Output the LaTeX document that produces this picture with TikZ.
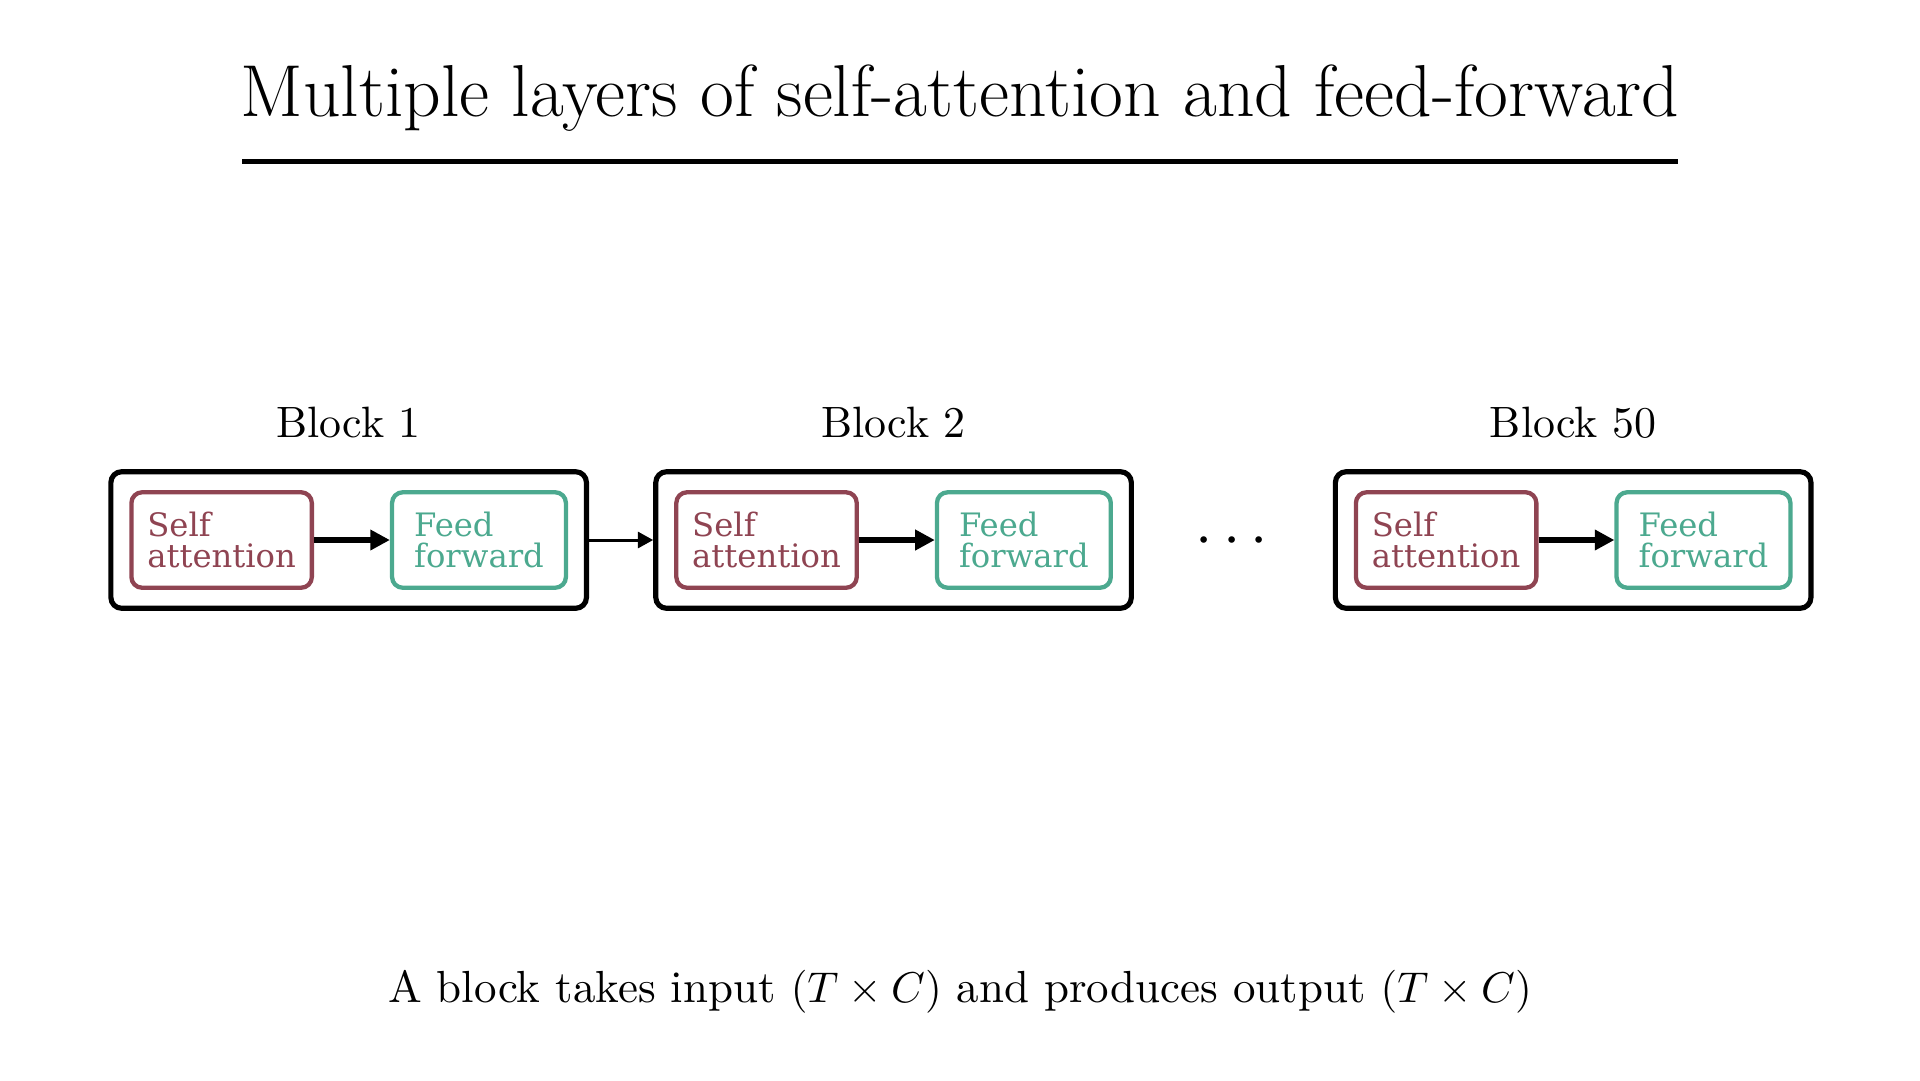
\documentclass[tikz,border=0pt]{standalone}
\usepackage{fontspec}
\usepackage{tikz}
\usetikzlibrary{arrows.meta,positioning,fit}
\newfontfamily\boxfont{DejaVu Serif}
\definecolor{samaroon}{HTML}{8F4452}
\definecolor{ffteal}{HTML}{4CA98F}

\tikzset{
  layerbox/.style={draw,rounded corners=2.5pt,line width=1pt,align=left,
    inner xsep=0.13cm,inner ysep=0.16cm,minimum height=0.78cm,
    font=\boxfont\fontsize{7.5}{7}\selectfont},
  sabox/.style={layerbox,draw=samaroon,text=samaroon},
  ffbox/.style={layerbox,draw=ffteal,text=ffteal,inner xsep=0.18cm},
  blockbox/.style={draw=black,rounded corners=2.5pt,line width=1.2pt,inner sep=0.15cm},
  blocklabel/.style={anchor=base,font=\fontsize{10.2}{12}\selectfont},
}

\begin{document}
\begin{tikzpicture}
    \useasboundingbox (0,0) rectangle (15.68,8.82);

    % title and rule
    \node[anchor=base,font=\fontsize{17.1}{20}\selectfont] (title) at (7.84,7.87)
      {Multiple layers of self-attention and feed-forward};
    \draw[line width=1.15pt] (1.98,7.50) -- (13.70,7.50);

    % block 1
    \node[sabox] (sa1) at (1.81,4.41) {Self\\attention};
    \node[ffbox,right=0.62cm of sa1] (ff1) {Feed\\forward};
    \node[blockbox,fit=(sa1)(ff1)] (blk1) {};
    \node[blocklabel] (lab1) at ([yshift=0.255cm]blk1.north) {Block 1};

    % block 2
    \node[sabox] (sa2) at (6.26,4.41) {Self\\attention};
    \node[ffbox,right=0.62cm of sa2] (ff2) {Feed\\forward};
    \node[blockbox,fit=(sa2)(ff2)] (blk2) {};
    \node[blocklabel] (lab2) at ([yshift=0.255cm]blk2.north) {Block 2};

    % block 50
    \node[sabox] (sa50) at (11.81,4.41) {Self\\attention};
    \node[ffbox,right=0.62cm of sa50] (ff50) {Feed\\forward};
    \node[blockbox,fit=(sa50)(ff50)] (blk50) {};
    \node[blocklabel] (lab50) at ([yshift=0.255cm]blk50.north) {Block 50};

    \node[anchor=base,font=\fontsize{15.4}{18}\selectfont] (dots) at (10.06,4.28) {$\cdots$};

    \begin{scope}[>={Triangle[length=0.16cm,width=0.16cm]}]
      \draw[->,line width=1.4pt] (sa1) -- (ff1);
      \draw[->,line width=1.4pt] (sa2) -- (ff2);
      \draw[->,line width=1.4pt] (sa50) -- (ff50);
    \end{scope}
    \draw[-{Triangle[length=0.125cm,width=0.13cm]},line width=0.7pt] (blk1) -- (blk2);

    % caption
    \node[anchor=base,font=\fontsize{10.45}{13}\selectfont] (caption) at (7.84,0.637)
      {A block takes input $(T \times C)$ and produces output $(T \times C)$};
\end{tikzpicture}
\end{document}
